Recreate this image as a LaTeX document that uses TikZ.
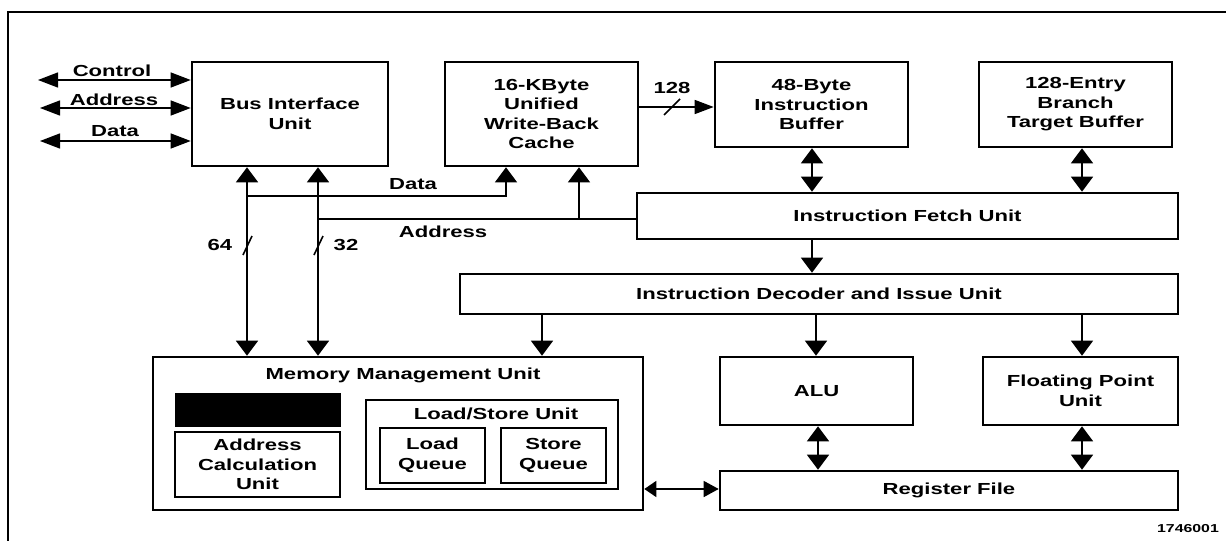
\documentclass[tikz,border=0pt]{standalone}
\usepackage{fontspec}
\setmainfont{Liberation Sans}[FakeStretch=1.38]
\usetikzlibrary{arrows.meta,calc}
\begin{document}
\begin{tikzpicture}[x=1pt,y=-1pt, >={Triangle[length=15pt,width=22pt]},
  lbl/.style={font=\fontsize{16}{19.5}\selectfont\bfseries, align=center, inner sep=0pt},
  box/.style={lbl, draw, line width=2.6pt},
  ibox/.style={lbl, draw, line width=1.5pt},
  conn/.style={line width=1.4pt},
  extarr/.style={line width=1.4pt, {Triangle[length=20pt,width=15pt]}-{Triangle[length=20pt,width=15pt]}},
  bus/.style={line width=1.2pt},
  frame/.style={line width=2.6pt}]
\useasboundingbox (0,0) rectangle (1226,543);
\draw[frame] (1226,12) -| (8,541);

\node[box, minimum width=196pt, minimum height=104pt] (biu) at (290,114) {Bus Interface\\Unit};
\node[box, minimum width=193pt, minimum height=104pt] (cache) at (541.5,114) {16-KByte\\Unified\\Write-Back\\Cache};
\node[box, minimum width=193pt, minimum height=85pt] (ib) at (811.5,104.5) {48-Byte\\Instruction\\Buffer};
\node[box, minimum width=193pt, minimum height=85pt] (btb) at (1075.5,104.5) {128-Entry\\Branch\\Target Buffer};
\node[box, minimum width=541pt, minimum height=46pt] (ifu) at (907.5,216) {Instruction Fetch Unit};
\node[box, minimum width=718pt, minimum height=40pt] (dec) at (819,294) {Instruction Decoder and Issue Unit};
\node[box, minimum width=490pt, minimum height=153pt] (mmu) at (398,433.5) {};
\node[lbl] (mmut) at (403,375) {Memory Management Unit};
\node[draw, fill=black, line width=1pt, minimum width=165pt, minimum height=33pt] (blk) at (257.5,409.5) {};
\node[ibox, minimum width=165pt, minimum height=65pt] (acu) at (257.5,464.5) {Address\\Calculation\\Unit};
\node[ibox, minimum width=252pt, minimum height=89pt] (lsu) at (492,444.5) {};
\node[lbl] (lsut) at (496,414) {Load/Store Unit};
\node[ibox, minimum width=105pt, minimum height=55pt] (lq) at (432.5,455.5) {Load\\Queue};
\node[ibox, minimum width=105pt, minimum height=55pt] (sq) at (553.5,455.5) {Store\\Queue};
\node[box, minimum width=193pt, minimum height=68pt] (alu) at (816.5,391) {ALU};
\node[box, minimum width=195pt, minimum height=68pt] (fpu) at (1080.5,391) {Floating Point\\Unit};
\node[box, minimum width=458pt, minimum height=39pt] (rf) at (949,490.5) {Register File};

\node[lbl] (lctl) at (112,71) {Control};
\node[lbl] (ladr) at (114,100) {Address};
\node[lbl] (ldat) at (115,131) {Data};
\node[lbl] (ldata2) at (413,184) {Data};
\node[lbl] (laddr2) at (443,232) {Address};
\node[lbl] (l64) at (220,245) {64};
\node[lbl] (l32) at (346,245) {32};
\node[lbl] (l128) at (672,88) {128};
\node[lbl, font=\fontsize{11.5}{14}\selectfont\bfseries] (fig) at (1188,529) {1746001};

% external bus arrows
\coordinate (cE) at (38,80);
\coordinate (aE) at (40,108);
\coordinate (dE) at (40,141);
\draw[extarr] (cE) -- (cE -| biu.west);
\draw[extarr] (aE) -- (aE -| biu.west);
\draw[extarr] (dE) -- (dE -| biu.west);

% internal buses
\coordinate (b64) at (247,0);
\coordinate (b32) at (318,0);
\draw[conn,<->] (biu.south -| b64) -- (mmu.north -| b64);
\draw[conn,<->] (biu.south -| b32) -- (mmu.north -| b32);
\coordinate (dj) at (247,196);
\coordinate (dc) at (506,196);
\draw[bus,->] (dj) -| (cache.south -| dc);
\coordinate (aj) at (318,219);
\coordinate (ac) at (579,219);
\draw[bus] (ifu.west |- aj) -- (aj);
\draw[bus,->] (ac) -- (cache.south -| ac);
\coordinate (c128) at (0,107);
\draw[conn,-{Triangle[length=19pt,width=14pt]}] (cache.east |- c128) -- (ib.west |- c128);
\draw[line width=1.6pt] (664,115) -- (680,99);
\draw[line width=1.6pt] (243,255) -- (252,236);
\draw[line width=1.6pt] (314,255) -- (323,236);

% fetch / decode
\coordinate (x812) at (812,0);
\coordinate (x1082) at (1082,0);
\coordinate (x542) at (542,0);
\coordinate (x816) at (816,0);
\coordinate (x818) at (818,0);
\coordinate (y489) at (0,489);
\draw[conn,<->] (ib.south -| x812) -- (ifu.north -| x812);
\draw[conn,<->] (btb.south -| x1082) -- (ifu.north -| x1082);
\draw[conn,->] (ifu.south -| x812) -- (dec.north -| x812);
\draw[conn,->] (dec.south -| x542) -- (mmu.north -| x542);
\draw[conn,->] (dec.south -| x816) -- (alu.north -| x816);
\draw[bus,->] (dec.south -| x1082) -- (fpu.north -| x1082);
\draw[conn,<->] (alu.south -| x818) -- (rf.north -| x818);
\draw[conn,<->] (fpu.south -| x1082) -- (rf.north -| x1082);
\draw[conn,{Triangle[length=12pt,width=16pt]}-{Triangle[length=15pt,width=16pt]}] (mmu.east |- y489) -- (rf.west |- y489);
\end{tikzpicture}
\end{document}
